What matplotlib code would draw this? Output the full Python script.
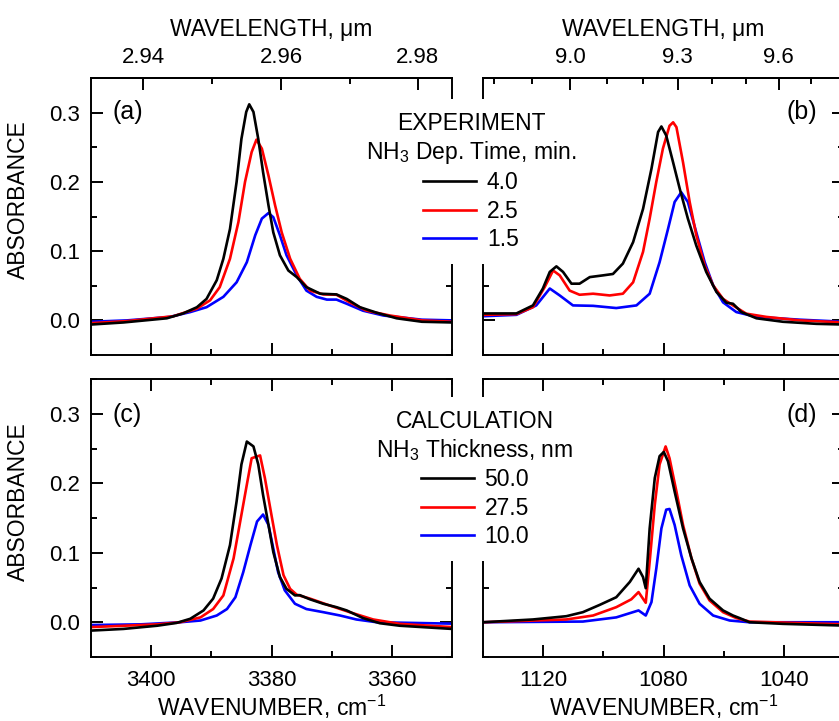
import numpy as np
import matplotlib
matplotlib.use('Agg')
import matplotlib.pyplot as plt
from matplotlib.ticker import MultipleLocator, FixedLocator, FormatStrFormatter

plt.rcParams['font.family'] = ['Liberation Sans', 'DejaVu Sans']
plt.rcParams['mathtext.fontset'] = 'custom'
plt.rcParams['mathtext.rm'] = 'Liberation Sans'
plt.rcParams['mathtext.it'] = 'Liberation Sans:italic'
plt.rcParams['mathtext.default'] = 'regular'

# ---- (a) experiment, N-H stretch region ----
wn_a_k = [3410, 3404.6, 3397.4, 3394.7, 3392.4, 3390.8, 3389.1, 3388.0, 3386.9, 3385.8, 3385.0, 3384.2,
          3383.7, 3383.0, 3382.2, 3381.4, 3380.5, 3379.7, 3378.6, 3377.2, 3375.8, 3374.2, 3371.9, 3369.2,
          3367.5, 3365.3, 3362.5, 3359.2, 3355, 3350]
ab_a_k = [-0.006, -0.003, 0.003, 0.010, 0.019, 0.031, 0.058, 0.089, 0.132, 0.200, 0.262, 0.301,
          0.312, 0.301, 0.262, 0.214, 0.166, 0.127, 0.094, 0.072, 0.0625, 0.048, 0.0385, 0.0375,
          0.031, 0.019, 0.011, 0.003, -0.002, -0.003]
wn_a_r = [3410, 3404, 3396.3, 3392.4, 3390.2, 3388.6, 3386.9, 3385.5, 3384.4, 3383.3, 3382.5, 3381.6,
          3380.5, 3379.4, 3378.3, 3376.9, 3375.3, 3373.6, 3371.4, 3369.2, 3367.0, 3364.2, 3360.3, 3355, 3350]
ab_a_r = [-0.004, -0.001, 0.006, 0.017, 0.029, 0.048, 0.089, 0.142, 0.200, 0.243, 0.261, 0.248,
          0.209, 0.166, 0.127, 0.089, 0.060, 0.043, 0.0375, 0.037, 0.026, 0.014, 0.007, 0.0, -0.002]
wn_a_b = [3410, 3404, 3396.9, 3393.5, 3390.8, 3388.0, 3385.8, 3384.1, 3382.7, 3381.6, 3380.5, 3379.7,
          3378.6, 3377.5, 3375.8, 3374.2, 3372.5, 3370.8, 3369.2, 3367.5, 3364.8, 3361.4, 3355, 3350]
ab_a_b = [-0.002, 0.0, 0.005, 0.012, 0.019, 0.034, 0.055, 0.084, 0.123, 0.147, 0.155, 0.149,
          0.123, 0.094, 0.065, 0.043, 0.034, 0.030, 0.030, 0.024, 0.014, 0.007, 0.001, 0.0]

# ---- (b) experiment, umbrella mode ----
wn_b_k = [1140, 1128.9, 1123.4, 1120.1, 1117.8, 1115.6, 1113.4, 1110.6, 1107.9, 1104.5, 1100.1, 1096.8,
          1093.5, 1090.1, 1086.8, 1084.0, 1081.8, 1080.7, 1079.1, 1076.8, 1074.6, 1071.9, 1069.1, 1065.8,
          1062.4, 1059.1, 1056.9, 1054.1, 1049.1, 1040.3, 1029.2, 1020]
ab_b_k = [0.010, 0.010, 0.0216, 0.046, 0.070, 0.078, 0.070, 0.053, 0.053, 0.0625, 0.065, 0.067,
          0.082, 0.113, 0.161, 0.219, 0.272, 0.280, 0.267, 0.228, 0.190, 0.147, 0.108, 0.070,
          0.041, 0.0255, 0.024, 0.012, 0.003, -0.002, -0.005, -0.006]
wn_b_r = [1140, 1128.9, 1123.4, 1119.5, 1116.7, 1114.5, 1111.2, 1107.9, 1103.4, 1097.9, 1093.5, 1090.1,
          1086.8, 1084.6, 1082.4, 1080.2, 1078.0, 1076.8, 1075.7, 1073.5, 1071.3, 1069.1, 1066.3, 1063.5,
          1060.2, 1056.9, 1052.5, 1045.8, 1034.7, 1020]
ab_b_r = [0.008, 0.009, 0.019, 0.048, 0.072, 0.065, 0.043, 0.037, 0.0385, 0.036, 0.0385, 0.055,
          0.099, 0.147, 0.200, 0.248, 0.281, 0.286, 0.279, 0.228, 0.171, 0.123, 0.079, 0.0505,
          0.031, 0.0216, 0.0097, 0.005, 0.0, -0.003]
wn_b_b = [1140, 1128.9, 1122.3, 1117.8, 1114.5, 1110.1, 1103.4, 1095.7, 1089.0, 1084.6, 1081.3, 1078.5,
          1076.3, 1074.1, 1071.9, 1069.1, 1066.3, 1063.5, 1060.2, 1055.8, 1049.1, 1034.7, 1020]
ab_b_b = [0.006, 0.008, 0.0216, 0.046, 0.036, 0.0216, 0.021, 0.0178, 0.0216, 0.0385, 0.084, 0.132,
          0.171, 0.185, 0.171, 0.127, 0.084, 0.0505, 0.026, 0.012, 0.005, 0.001, -0.002]

# ---- (c) calculation, N-H stretch region ----
wn_c_k = [3410, 3404.6, 3399.0, 3395.8, 3393.5, 3391.3, 3389.7, 3388.3, 3386.9, 3385.8, 3385.0, 3384.1,
          3383.0, 3382.2, 3381.4, 3380.5, 3379.7, 3378.6, 3377.5, 3376.1, 3375.3, 3373.6, 3371.4, 3369.2,
          3367.5, 3364.8, 3362.0, 3358.7, 3350]
ab_c_k = [-0.012, -0.0096, -0.005, -0.001, 0.005, 0.017, 0.034, 0.063, 0.111, 0.174, 0.227, 0.260,
          0.253, 0.227, 0.183, 0.140, 0.101, 0.065, 0.048, 0.0386, 0.039, 0.033, 0.0266, 0.0217,
          0.017, 0.006, -0.0014, -0.005, -0.0096]
wn_c_r = [3410, 3399.0, 3395.2, 3391.8, 3389.7, 3388.0, 3386.3, 3385.2, 3384.1, 3383.3, 3381.9, 3381.1,
          3380.0, 3379.1, 3378.0, 3376.9, 3375.8, 3373.6, 3370.3, 3367.0, 3363.1, 3358.7, 3350]
ab_c_r = [-0.007, -0.003, 0.0, 0.007, 0.019, 0.0386, 0.092, 0.145, 0.198, 0.236, 0.240, 0.2075,
          0.154, 0.111, 0.0676, 0.048, 0.0396, 0.034, 0.024, 0.0145, 0.004, -0.0023, -0.007]
wn_c_b = [3410, 3401.7, 3395.2, 3391.8, 3389.1, 3387.4, 3386.0, 3384.7, 3383.5, 3382.4, 3381.4, 3380.5,
          3379.7, 3378.9, 3377.8, 3376.1, 3374.2, 3371.4, 3368.6, 3365.9, 3362.5, 3350]
ab_c_b = [-0.004, -0.003, 0.0, 0.0025, 0.0097, 0.019, 0.036, 0.072, 0.111, 0.145, 0.155, 0.140,
          0.106, 0.072, 0.046, 0.0266, 0.019, 0.0145, 0.0097, 0.004, 0.0, -0.002]

# ---- (d) calculation, umbrella mode ----
wn_d_k = [1140, 1123.4, 1112.3, 1106.8, 1101.2, 1095.7, 1091.2, 1088.3, 1086.8, 1085.9, 1084.6, 1082.9,
          1081.3, 1079.9, 1078.5, 1076.3, 1073.5, 1070.7, 1068.0, 1064.7, 1060.2, 1056.9, 1054.7, 1051.4,
          1040.3, 1020]
ab_d_k = [0.0, 0.004, 0.0087, 0.0145, 0.025, 0.036, 0.058, 0.077, 0.065, 0.049, 0.135, 0.2075,
          0.239, 0.245, 0.2315, 0.188, 0.135, 0.092, 0.058, 0.034, 0.017, 0.0097, 0.006, 0.0,
          -0.0023, -0.0048]
wn_d_r = [1140, 1112.3, 1103.4, 1095.7, 1090.7, 1088.3, 1085.9, 1084.6, 1082.9, 1081.3, 1079.3, 1078.0,
          1075.7, 1073.5, 1070.7, 1068.0, 1064.7, 1060.2, 1055.8, 1051.4, 1020]
ab_d_r = [0.0, 0.004, 0.0097, 0.0217, 0.033, 0.0434, 0.028, 0.087, 0.169, 0.227, 0.253, 0.236,
          0.188, 0.140, 0.092, 0.0556, 0.0314, 0.0145, 0.006, 0.001, -0.003]
wn_d_b = [1140, 1106.8, 1095.7, 1088.3, 1085.9, 1084.0, 1082.4, 1080.7, 1079.1, 1078.0, 1076.3, 1074.1,
          1071.3, 1068.0, 1063.5, 1058.0, 1051.4, 1020]
ab_d_b = [0.0, 0.001, 0.007, 0.017, 0.0097, 0.029, 0.077, 0.135, 0.162, 0.163, 0.140, 0.0965,
          0.053, 0.0266, 0.0097, 0.0025, 0.0, 0.0]

exp_labels = ['4.0', '2.5', '1.5']
calc_labels = ['50.0', '27.5', '10.0']
wl_major_left = [2.94, 2.96, 2.98]
wl_minor_left = [2.95, 2.97]
wl_major_right = [9.0, 9.3, 9.6]
wl_minor_right = [8.8, 8.9, 9.1, 9.2, 9.4, 9.5, 9.7, 9.8]

FS = 16.5
TFS = 16
LW = 1.4

W, H = 839, 721
fig = plt.figure(figsize=(W / 100, H / 100), dpi=100)


def add_ax(x0, x1, y0, y1):
    return fig.add_axes([x0 / W, 1 - y1 / H, (x1 - x0) / W, (y1 - y0) / H])


ax_a = add_ax(91, 452, 78, 355)
ax_b = add_ax(483, 844, 78, 355)
ax_c = add_ax(91, 452, 379, 657)
ax_d = add_ax(483, 844, 379, 657)


def setup(ax, xlim, xmaj, xmin, left, top, wl_maj=None, wl_min=None, wl_fmt=None):
    ax.set_xlim(*xlim)
    ax.set_ylim(-0.05, 0.35)
    ax.xaxis.set_major_locator(MultipleLocator(xmaj))
    ax.xaxis.set_minor_locator(MultipleLocator(xmin))
    ax.yaxis.set_major_locator(MultipleLocator(0.1))
    ax.yaxis.set_minor_locator(MultipleLocator(0.05))
    ax.yaxis.set_major_formatter(FormatStrFormatter('%.1f'))
    for s in ax.spines.values():
        s.set_linewidth(LW)
    ax.tick_params(which='both', direction='in', width=LW, labelsize=TFS,
                   left=True, right=True, bottom=True, top=not top,
                   labelleft=left, labelbottom=not top)
    ax.tick_params(which='major', length=8.5, pad=8)
    ax.tick_params(which='minor', length=4.5)
    ax.tick_params(axis='x', which='major', pad=9)
    if left:
        ax.set_ylabel('ABSORBANCE', fontsize=FS)
        ax.yaxis.set_label_coords(-0.17, 0.56)
    if top:
        sec = ax.secondary_xaxis('top', functions=(lambda w: 1e4 / w, lambda l: 1e4 / l))
        sec.xaxis.set_major_locator(FixedLocator(wl_maj))
        sec.xaxis.set_minor_locator(FixedLocator(wl_min))
        sec.xaxis.set_major_formatter(FormatStrFormatter(wl_fmt))
        sec.spines['top'].set_linewidth(LW)
        sec.tick_params(which='both', direction='in', width=LW, labelsize=TFS)
        sec.tick_params(which='major', length=8.5, pad=7)
        sec.tick_params(which='minor', length=4.5)
        sec.set_xlabel('WAVELENGTH, μm', fontsize=FS, labelpad=8)
    else:
        ax.set_xlabel('WAVENUMBER, cm$^{-1}$', fontsize=FS, labelpad=2)


setup(ax_a, (3410, 3350), 20, 10, True, True, wl_major_left, wl_minor_left, '%.2f')
setup(ax_b, (1140, 1020), 40, 20, False, True, wl_major_right, wl_minor_right, '%.1f')
setup(ax_c, (3410, 3350), 20, 10, True, False)
setup(ax_d, (1140, 1020), 40, 20, False, False)

lw = 1.9
cols = {'k': 'black', 'r': '#ff0000', 'b': '#0000ff'}
series = {
    ax_a: [(wn_a_b, ab_a_b, 'b'), (wn_a_r, ab_a_r, 'r'), (wn_a_k, ab_a_k, 'k')],
    ax_b: [(wn_b_b, ab_b_b, 'b'), (wn_b_r, ab_b_r, 'r'), (wn_b_k, ab_b_k, 'k')],
    ax_c: [(wn_c_b, ab_c_b, 'b'), (wn_c_r, ab_c_r, 'r'), (wn_c_k, ab_c_k, 'k')],
    ax_d: [(wn_d_b, ab_d_b, 'b'), (wn_d_r, ab_d_r, 'r'), (wn_d_k, ab_d_k, 'k')],
}
handles = {}
for ax, lst in series.items():
    hs = []
    for x, y, c in lst:
        ln, = ax.plot(x, y, color=cols[c], lw=lw)
        hs.append(ln)
    handles[ax] = hs[::-1]

ax_a.text(0.06, 0.877, '(a)', transform=ax_a.transAxes, fontsize=18, va='center', ha='left')
ax_b.text(0.925, 0.877, '(b)', transform=ax_b.transAxes, fontsize=18, va='center', ha='right')
ax_c.text(0.06, 0.871, '(c)', transform=ax_c.transAxes, fontsize=18, va='center', ha='left')
ax_d.text(0.925, 0.871, '(d)', transform=ax_d.transAxes, fontsize=18, va='center', ha='right')


def add_legend(ax, hs, labels, title, cx, ytop):
    leg = ax.legend(hs, labels, title=title, loc='upper center',
                    bbox_to_anchor=(cx / W, 1 - ytop / H), bbox_transform=fig.transFigure,
                    fontsize=FS, title_fontsize=FS, frameon=True, fancybox=False,
                    edgecolor='none', facecolor='white', framealpha=1, alignment='center',
                    handlelength=2.3, handletextpad=0.48, labelspacing=0.24, borderpad=0.55)
    leg.get_title().set_multialignment('center')
    leg.get_title().set_linespacing(1.18)
    return leg


add_legend(ax_b, handles[ax_b], exp_labels, 'EXPERIMENT\nNH$_3$ Dep. Time, min.', 471, 88)
add_legend(ax_d, handles[ax_d], calc_labels, 'CALCULATION\nNH$_3$ Thickness, nm', 475, 386)

fig.savefig('out.png', dpi=100)
